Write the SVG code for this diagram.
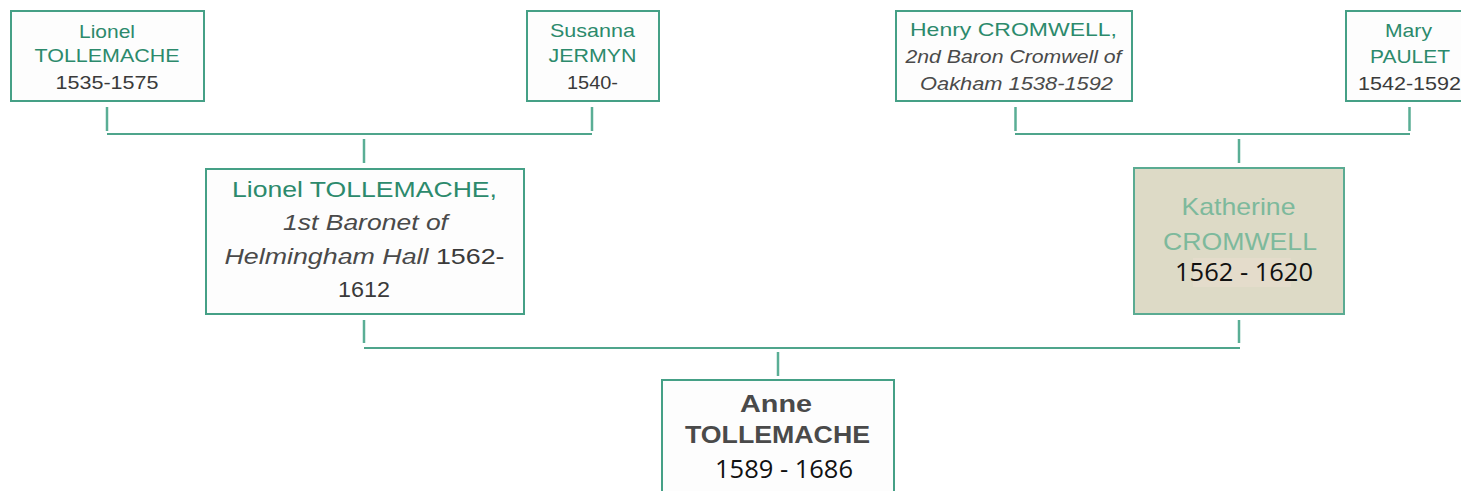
<svg xmlns="http://www.w3.org/2000/svg" width="1461" height="491" viewBox="0 0 1461 491">
<style>
.box{fill:#fdfdfd;stroke:#45a086;stroke-width:2}
.kbox{fill:#dddac6;stroke:#5aab92;stroke-width:2}
.ln{stroke:#4fa58c;stroke-width:2;fill:none}
.stub{stroke:#5aae95;stroke-width:2.5;fill:none}
text{font-family:"Liberation Sans",Arial,sans-serif;text-anchor:middle}
.tl{fill:#2c8a6c}
.gr{fill:#3a3a3a}
.it{font-style:italic;fill:#4a4a4a}
.s{font-size:19px}
.m{font-size:22px}
.k{font-size:24px;fill:#7db99c}
.a{font-size:24px;font-weight:bold;fill:#4a4a4a}
.os{font-family:"Open Sans","Noto Sans",sans-serif;font-size:25px;fill:#111;text-anchor:start}
</style>
<rect width="1461" height="491" fill="#ffffff"/>
<g id="connectors">
<line class="stub" x1="107" y1="107" x2="107" y2="131"/>
<line class="stub" x1="592" y1="107" x2="592" y2="131"/>
<line class="ln" x1="107" y1="134" x2="592" y2="134"/>
<line class="stub" x1="364" y1="139" x2="364" y2="163"/>
<line class="stub" x1="1015.5" y1="107" x2="1015.5" y2="131"/>
<line class="stub" x1="1409.5" y1="107" x2="1409.5" y2="131"/>
<line class="ln" x1="1015" y1="134" x2="1410" y2="134"/>
<line class="stub" x1="1239" y1="139" x2="1239" y2="163"/>
<line class="stub" x1="364" y1="320" x2="364" y2="343"/>
<line class="stub" x1="1239" y1="320" x2="1239" y2="343"/>
<line class="ln" x1="364" y1="348" x2="1240" y2="348"/>
<line class="stub" x1="778" y1="352" x2="778" y2="376"/>
</g>
<g id="lionel-sr">
<rect class="box" x="11" y="11" width="193" height="90"/>
<text class="s tl" x="107" y="38" textLength="56" lengthAdjust="spacingAndGlyphs">Lionel</text>
<text class="s tl" x="107" y="62" textLength="145" lengthAdjust="spacingAndGlyphs">TOLLEMACHE</text>
<text class="s gr" x="107" y="89" textLength="103" lengthAdjust="spacingAndGlyphs">1535-1575</text>
</g>
<g id="susanna">
<rect class="box" x="527" y="11" width="132" height="90"/>
<text class="s tl" x="592.5" y="37" textLength="85" lengthAdjust="spacingAndGlyphs">Susanna</text>
<text class="s tl" x="592.5" y="62" textLength="88" lengthAdjust="spacingAndGlyphs">JERMYN</text>
<text class="s gr" x="592.5" y="89" textLength="51" lengthAdjust="spacingAndGlyphs">1540-</text>
</g>
<g id="henry">
<rect class="box" x="896" y="11" width="236" height="90"/>
<text class="s tl" x="1013.5" y="36" textLength="207" lengthAdjust="spacingAndGlyphs">Henry CROMWELL,</text>
<text class="s it" x="1013.5" y="63" textLength="216" lengthAdjust="spacingAndGlyphs">2nd Baron Cromwell of</text>
<text class="s it" x="1016.5" y="90" textLength="193" lengthAdjust="spacingAndGlyphs">Oakham 1538-1592</text>
</g>
<g id="mary">
<rect class="box" x="1346" y="11" width="130" height="90"/>
<text class="s tl" x="1408.5" y="37" textLength="47" lengthAdjust="spacingAndGlyphs">Mary</text>
<text class="s tl" x="1410" y="63" textLength="80" lengthAdjust="spacingAndGlyphs">PAULET</text>
<text class="s gr" x="1358" y="90" style="text-anchor:start" textLength="103" lengthAdjust="spacingAndGlyphs">1542-1592</text>
</g>
<g id="lionel-baronet">
<rect class="box" x="206" y="169" width="318" height="145"/>
<text class="m tl" x="364.5" y="197" textLength="265" lengthAdjust="spacingAndGlyphs">Lionel TOLLEMACHE,</text>
<text class="m it" x="365.5" y="230" textLength="165" lengthAdjust="spacingAndGlyphs">1st Baronet of</text>
<text class="m gr" x="364.5" y="264" textLength="280" lengthAdjust="spacingAndGlyphs"><tspan class="it">Helmingham Hall</tspan> 1562-</text>
<text class="m gr" x="364" y="297" textLength="52" lengthAdjust="spacingAndGlyphs">1612</text>
</g>
<g id="katherine">
<rect class="kbox" x="1134" y="168" width="210" height="146"/>
<rect x="1193" y="258" width="98" height="29" fill="#e4dccb"/>
<text class="k" x="1238.5" y="215" textLength="114" lengthAdjust="spacingAndGlyphs">Katherine</text>
<text class="k" x="1240" y="250" textLength="154" lengthAdjust="spacingAndGlyphs">CROMWELL</text>
<text class="os" x="1175" y="281" textLength="138" lengthAdjust="spacingAndGlyphs">1562 - 1620</text>
</g>
<g id="anne">
<rect class="box" x="662" y="380" width="232" height="130"/>
<text class="a" x="776" y="412" textLength="72" lengthAdjust="spacingAndGlyphs">Anne</text>
<text class="a" x="777.5" y="443" textLength="185" lengthAdjust="spacingAndGlyphs">TOLLEMACHE</text>
<text class="os" x="715" y="478" textLength="138" lengthAdjust="spacingAndGlyphs">1589 - 1686</text>
</g>
</svg>
